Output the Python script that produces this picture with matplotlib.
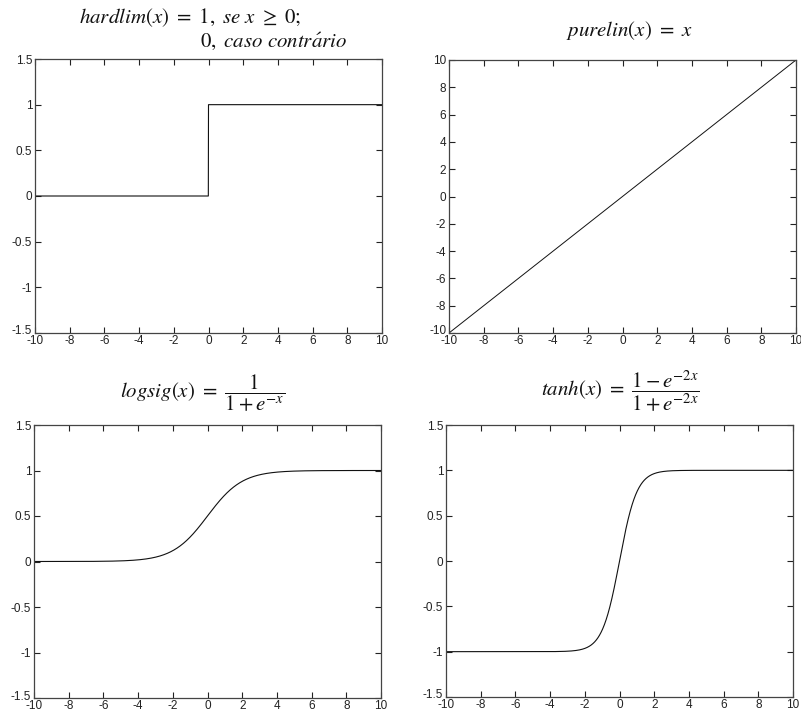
import numpy as np
import matplotlib
matplotlib.use("Agg")
import matplotlib.pyplot as plt
import matplotlib.transforms as mtransforms

# sample grid shared by the four transfer functions
x = np.linspace(-10, 10, 2001)

x_ticks = [-10, -8, -6, -4, -2, 0, 2, 4, 6, 8, 10]
y_ticks_unit = [-1.5, -1, -0.5, 0, 0.5, 1, 1.5]
y_ticks_lin = [-10, -8, -6, -4, -2, 0, 2, 4, 6, 8, 10]

hardlim = np.where(x >= 0, 1.0, 0.0)
purelin = x
logsig = 1.0 / (1.0 + np.exp(-x))
tanh = (1.0 - np.exp(-2 * x)) / (1.0 + np.exp(-2 * x))

plt.rcParams['font.family'] = ['Liberation Sans', 'DejaVu Sans']
plt.rcParams['mathtext.fontset'] = 'stix'
plt.rcParams['axes.unicode_minus'] = False

W, H = 801, 715
fig = plt.figure(figsize=(W / 100, H / 100), dpi=100)


def px_axes(left, top, right, bottom):
    return fig.add_axes([left / W, 1 - bottom / H, (right - left) / W, (bottom - top) / H])


def fmt(v):
    return ('%g' % v)


def style(ax, yticks):
    ax.set_xlim(-10, 10)
    ax.set_ylim(yticks[0], yticks[-1])
    ax.set_xticks(x_ticks)
    ax.set_xticklabels([fmt(t) for t in x_ticks])
    ax.set_yticks(yticks)
    ax.set_yticklabels([fmt(t) for t in yticks])
    ax.tick_params(direction='in', length=4, width=0.8, top=True, right=True,
                   labelsize=8.5, colors='#222222')
    ax.tick_params(axis='x', pad=1.5)
    ax.tick_params(axis='y', pad=2)
    for s in ax.spines.values():
        s.set_linewidth(0.9)
        s.set_color('#444444')
    # lift the lowest y label a little so it sits above the first x label
    lowest = ax.get_yticklabels()[0]
    lowest.set_transform(lowest.get_transform() +
                         mtransforms.ScaledTranslation(0, 3 / 100, fig.dpi_scale_trans))


ax1 = px_axes(35, 59, 382, 333)
ax1.plot(x, hardlim, color='#111111', lw=0.8)
style(ax1, y_ticks_unit)

ax2 = px_axes(449, 60, 796, 333)
ax2.plot(x, purelin, color='#111111', lw=0.7)
style(ax2, y_ticks_lin)

ax3 = px_axes(34, 425, 381, 698)
ax3.plot(x, logsig, color='#111111', lw=0.8)
style(ax3, y_ticks_unit)

ax4 = px_axes(446, 425, 793, 697)
ax4.plot(x, tanh, color='#111111', lw=0.8)
style(ax4, y_ticks_unit)

# formula titles
tsize = 15
fig.text(190 / W, 1 - 18 / H, r'$hardlim(x)\ =\ 1,\ se\ x\ \geq\ 0;$',
         ha='center', va='center', fontsize=tsize, color='#111111')
fig.text(200 / W, 1 - 41 / H, r'$0,\ caso\ contr\acute{a}rio$',
         ha='left', va='center', fontsize=tsize, color='#111111')
fig.text(629 / W, 1 - 31 / H, r'$purelin(x)\ =\ x$',
         ha='center', va='center', fontsize=tsize, color='#111111')
fig.text(203 / W, 1 - 393 / H, r'$logsig(x)\ =\ \dfrac{1}{1 + e^{-x}}$',
         ha='center', va='center', fontsize=tsize, color='#111111')
fig.text(620 / W, 1 - 391 / H, r'$tanh(x)\ =\ \dfrac{1 - e^{-2x}}{1 + e^{-2x}}$',
         ha='center', va='center', fontsize=tsize, color='#111111')

fig.savefig('out.png', dpi=100)
